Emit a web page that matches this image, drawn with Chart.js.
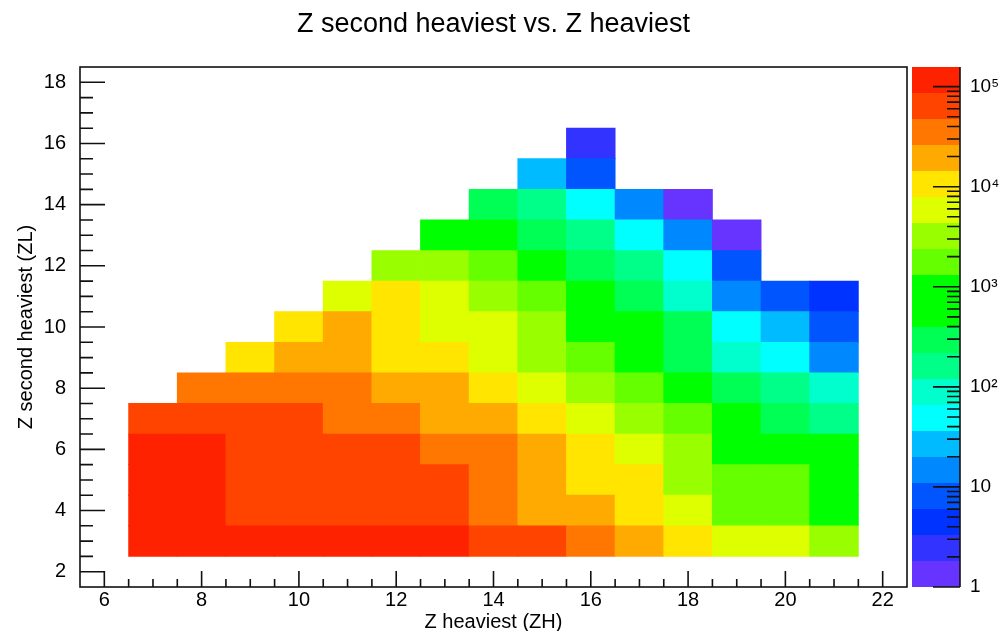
<!DOCTYPE html>
<html>
<head>
<meta charset="utf-8">
<script src="https://cdn.jsdelivr.net/npm/chart.js@4.4.1/dist/chart.umd.min.js"></script>
<style>
html, body { margin: 0; padding: 0; background: #ffffff; }
canvas { display: block; }
</style>
</head>
<body>
<canvas id="c" width="1001" height="631"></canvas>
<script>
// ---- texts ----
const chartTitle = 'Z second heaviest vs. Z heaviest';
const xTitle = 'Z heaviest (ZH)';
const yTitle = 'Z second heaviest (ZL)';

// ---- bins (bin centres) ----
const zhBins = [7, 8, 9, 10, 11, 12, 13, 14, 15, 16, 17, 18, 19, 20, 21];
const zlBins = [3, 4, 5, 6, 7, 8, 9, 10, 11, 12, 13, 14, 15, 16];

// ---- counts per ZL row, one value per ZH bin (null = empty) ----
const countsZL3  = [142000, 138000, 131000, 124000, 118000, 109000, 101000, 84000, 71000, 41000, 21000, 11800, 6900, 5100, 3400];
const countsZL4  = [112000, 97000, 78000, 74000, 69000, 62000, 55000, 38000, 23000, 17500, 10200, 5600, 1900, 1650, 560];
const countsZL5  = [104000, 91000, 72000, 68000, 63000, 58000, 50000, 33000, 18500, 12500, 9100, 3300, 1750, 1500, 610];
const countsZL6  = [96000, 92000, 66000, 61000, 57000, 52000, 44000, 30000, 16500, 9800, 6200, 2900, 900, 760, 610];
const countsZL7  = [79000, 76000, 70000, 59000, 45000, 36000, 25000, 17000, 10800, 6400, 3000, 1500, 650, 330, 170];
const countsZL8  = [null, 43000, 39000, 34000, 28000, 22000, 16000, 9500, 5300, 2600, 1400, 620, 270, 150, 95];
const countsZL9  = [null, null, 9800, 15500, 14800, 12000, 8600, 5000, 2700, 1600, 620, 250, 88, 52, 16];
const countsZL10 = [null, null, null, 8300, 15200, 9000, 6500, 4500, 2500, 950, 560, 260, 45, 26, 8];
const countsZL11 = [null, null, null, null, 5500, 8600, 4700, 3100, 1500, 780, 240, 75, 13, 7, 4];
const countsZL12 = [null, null, null, null, null, 2900, 2650, 1450, 880, 260, 130, 40, 7, null, null];
const countsZL13 = [null, null, null, null, null, null, 820, 660, 280, 135, 38, 12, 1, null, null];
const countsZL14 = [null, null, null, null, null, null, null, 300, 150, 41, 13, 1, null, null, null];
const countsZL15 = [null, null, null, null, null, null, null, null, 24, 7, null, null, null, null, null];
const countsZL16 = [null, null, null, null, null, null, null, null, null, 2, null, null, null, null, null];
const countsByRow = [countsZL3, countsZL4, countsZL5, countsZL6, countsZL7, countsZL8, countsZL9,
                     countsZL10, countsZL11, countsZL12, countsZL13, countsZL14, countsZL15, countsZL16];

// ---- axes ----
const xRange = [5.5, 22.5];
const yRange = [1.5, 18.5];
const xTickValues = [6, 8, 10, 12, 14, 16, 18, 20, 22];
const yTickValues = [2, 4, 6, 8, 10, 12, 14, 16, 18];
const zRange = [1, 157000];
const zTickValues = [1, 10, 100, 1000, 10000, 100000];
const zTickLabels = ['1', '10', '10\u00B2', '10\u00B3', '10\u2074', '10\u2075'];

// ---- colour palette (20 contour levels, bottom to top) ----
const paletteColors = ['#6633ff', '#3333ff', '#0033ff', '#0055ff', '#0088ff', '#00bbff', '#00ffff',
                       '#00ffcc', '#00ff88', '#00ff55', '#00ff00', '#00ff00', '#66ff00', '#99ff00',
                       '#ddff00', '#ffe500', '#ffaa00', '#ff7700', '#ff4400', '#ff2200'];

function colorFor(v) {
  const n = paletteColors.length;
  const f = Math.log10(v / zRange[0]) / Math.log10(zRange[1] / zRange[0]);
  const b = Math.max(0, Math.min(n - 1, Math.floor(f * n)));
  return paletteColors[b];
}

const datasets = zlBins.map((zl, r) => {
  const data = [], colors = [];
  countsByRow[r].forEach((v, i) => {
    if (v === null) return;
    data.push({ x: zhBins[i], y: [zl - 0.5, zl + 0.5], v: v });
    colors.push(colorFor(v));
  });
  return {
    label: 'ZL ' + zl,
    data: data,
    backgroundColor: colors,
    borderWidth: 0,
    grouped: false,
    barPercentage: 1,
    categoryPercentage: 1,
    inflateAmount: 0.4,
    xAxisID: 'x',
    yAxisID: 'y'
  };
});

const FONT = "'Liberation Sans', Arial, Helvetica, sans-serif";
Chart.defaults.font.family = FONT;
Chart.defaults.color = '#000000';

// ROOT-like frame, inward ticks and colour palette
const rootDecor = {
  id: 'rootDecor',
  afterDraw(chart) {
    const { ctx, chartArea: a, scales } = chart;
    const sx = scales.x, sy = scales.y, sz = scales.z;
    ctx.save();
    // palette
    const n = paletteColors.length;
    const L = Math.log10(zRange[1] / zRange[0]);
    const px0 = Math.round(sz.left + 5), pw = 48;
    for (let b = 0; b < n; b++) {
      const ya = Math.round(sz.getPixelForValue(zRange[0] * Math.pow(10, L * b / n)));
      const yb = Math.round(sz.getPixelForValue(zRange[0] * Math.pow(10, L * (b + 1) / n)));
      ctx.fillStyle = paletteColors[b];
      ctx.fillRect(px0, yb, pw, ya - yb);
    }
    ctx.strokeStyle = '#111111';
    ctx.lineWidth = 1.6;
    // frame
    ctx.strokeRect(a.left, a.top, a.right - a.left, a.bottom - a.top);
    ctx.beginPath();
    // x ticks
    const xt = (v, len) => { const p = sx.getPixelForValue(v); ctx.moveTo(p, a.bottom); ctx.lineTo(p, a.bottom - len); };
    const yt = (v, len) => { const p = sy.getPixelForValue(v); ctx.moveTo(a.left, p); ctx.lineTo(a.left + len, p); };
    for (let i = 0; i < xTickValues.length; i++) {
      xt(xTickValues[i], 16);
      if (i < xTickValues.length - 1) {
        const st = (xTickValues[i + 1] - xTickValues[i]) / 4;
        for (let k = 1; k < 4; k++) xt(xTickValues[i] + k * st, 8);
      }
    }
    for (let i = 0; i < yTickValues.length; i++) {
      yt(yTickValues[i], 25);
      if (i < yTickValues.length - 1) {
        const st = (yTickValues[i + 1] - yTickValues[i]) / 4;
        for (let k = 1; k < 4; k++) yt(yTickValues[i] + k * st, 13);
      }
    }
    // palette axis
    const zx = px0 + pw;
    ctx.moveTo(zx, sz.top);
    ctx.lineTo(zx, sz.bottom);
    const zt = (v, len) => { const p = sz.getPixelForValue(v); ctx.moveTo(zx, p); ctx.lineTo(zx - len, p); };
    for (let i = 0; i < zTickValues.length; i++) {
      zt(zTickValues[i], 27);
      if (i < zTickValues.length - 1) {
        for (let m = 2; m <= 9; m++) {
          const v = zTickValues[i] * m;
          if (v <= zRange[1]) zt(v, 13);
        }
      }
    }
    ctx.stroke();
    ctx.restore();
  }
};

new Chart(document.getElementById('c'), {
  type: 'bar',
  data: { datasets: datasets },
  plugins: [rootDecor],
  options: {
    responsive: false,
    animation: false,
    events: [],
    layout: { padding: 0 },
    plugins: {
      legend: { display: false },
      tooltip: { enabled: false },
      title: {
        display: true,
        text: chartTitle,
        fullSize: false,
        color: '#000000',
        font: { size: 27, weight: 'normal', lineHeight: 1.2 },
        padding: { top: 8, bottom: 26.6 }
      }
    },
    scales: {
      x: {
        type: 'linear',
        position: 'bottom',
        min: xRange[0],
        max: xRange[1],
        offset: false,
        grid: { display: false, offset: false },
        border: { display: false },
        afterBuildTicks: (s) => { s.ticks = xTickValues.map(v => ({ value: v })); },
        afterFit: (s) => { s.height = 44; },
        ticks: { font: { size: 20 }, padding: -7, maxRotation: 0, autoSkip: false, callback: (v) => String(v) },
        title: { display: true, text: xTitle, font: { size: 20, lineHeight: 1 }, padding: { top: 0, bottom: -1 } }
      },
      y: {
        type: 'linear',
        position: 'left',
        min: yRange[0],
        max: yRange[1],
        beginAtZero: false,
        grid: { display: false },
        border: { display: false },
        afterBuildTicks: (s) => { s.ticks = yTickValues.map(v => ({ value: v })); },
        afterFit: (s) => { s.width = 80; },
        ticks: { font: { size: 20 }, padding: 6, autoSkip: false, callback: (v) => String(v) },
        title: { display: true, text: yTitle, font: { size: 20, lineHeight: 1.2 }, padding: { top: 14.4, bottom: 0 } }
      },
      z: {
        type: 'logarithmic',
        axis: 'y',
        position: 'right',
        min: zRange[0],
        max: zRange[1],
        grid: { display: true, drawOnChartArea: false, drawTicks: true, tickLength: 61, tickColor: 'rgba(0,0,0,0)', color: 'rgba(0,0,0,0)' },
        border: { display: false },
        afterBuildTicks: (s) => { s.ticks = zTickValues.map(v => ({ value: v })); },
        afterFit: (s) => { s.width = 94; },
        ticks: { font: { size: 19 }, padding: 2, autoSkip: false, callback: (v, i) => zTickLabels[i] }
      }
    }
  }
});
</script>
</body>
</html>
